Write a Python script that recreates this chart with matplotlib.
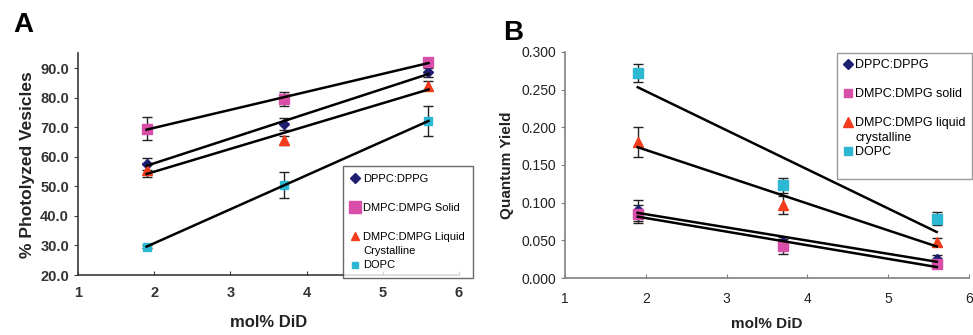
import numpy as np
import matplotlib.pyplot as plt
from matplotlib.lines import Line2D

plt.rcParams['font.family'] = ['Liberation Sans', 'DejaVu Sans']

# mol% DiD
x = np.array([1.9, 3.7, 5.6])

# panel A: % photolyzed vesicles
a_dppc = [57.5, 71.0, 88.5]
a_dppc_err = [2.0, 2.0, 1.5]
a_solid = [69.5, 79.5, 92.0]
a_solid_err = [3.8, 2.5, 1.0]
a_liquid = [55.5, 65.5, 84.0]
a_liquid_err = [2.5, 1.5, 1.5]
a_dopc = [29.5, 50.5, 72.0]
a_dopc_err = [0.5, 4.5, 5.0]

# panel B: quantum yield
b_dppc = [0.090, 0.048, 0.025]
b_dppc_err = [0.014, 0.006, 0.006]
b_solid = [0.085, 0.042, 0.018]
b_solid_err = [0.012, 0.010, 0.004]
b_liquid = [0.180, 0.097, 0.048]
b_liquid_err = [0.020, 0.012, 0.005]
b_dopc = [0.272, 0.123, 0.079]
b_dopc_err = [0.012, 0.010, 0.008]

navy = '#1f1f72'
pink = '#d84ea8'
red = '#f23c1c'
cyan = '#2cb8d2'


def draw_series(ax, y, err, color, marker, ms):
	ax.errorbar(x, y, yerr=err, fmt=marker, color=color, ms=ms, mec=color,
		ecolor='#222222', elinewidth=1.0, capsize=3.5, capthick=1.0, zorder=3)
	k, b = np.polyfit(x, y, 1)
	ax.plot(x[[0, -1]], k*x[[0, -1]] + b, color='black', lw=1.8, zorder=4)


def style_axes(ax, spine_col):
	ax.spines['top'].set_visible(False)
	ax.spines['right'].set_visible(False)
	ax.spines['left'].set_color(spine_col)
	ax.spines['bottom'].set_color(spine_col)
	ax.spines['left'].set_linewidth(1.2)
	ax.spines['bottom'].set_linewidth(1.2)
	ax.tick_params(axis='y', direction='out', length=3, color=spine_col)
	ax.tick_params(axis='x', direction='in', length=3, color=spine_col)
	ax.set_xlim(1, 6)
	ax.set_xticks([1, 2, 3, 4, 5, 6])


def blank():
	return Line2D([], [], linestyle='none')


fig = plt.figure(figsize=(9.73, 3.35), dpi=100)

# ---- A
ax = fig.add_axes([0.0802, 0.179, 0.3915, 0.662])
draw_series(ax, a_dppc, a_dppc_err, navy, 'D', 5.5)
draw_series(ax, a_solid, a_solid_err, pink, 's', 7)
draw_series(ax, a_liquid, a_liquid_err, red, '^', 7)
draw_series(ax, a_dopc, a_dopc_err, cyan, 's', 6)
style_axes(ax, '#3a3a3a')
ax.set_ylim(20, 95)
ax.set_yticks(np.arange(20, 91, 10))
ax.set_yticklabels(['%.1f' % v for v in np.arange(20, 91, 10)])
for lab in ax.get_xticklabels() + ax.get_yticklabels():
	lab.set_fontsize(10.5)
	lab.set_fontweight('bold')
	lab.set_color('#333333')
ax.tick_params(axis='x', pad=8)
ax.set_xlabel('mol% DiD', fontsize=12, fontweight='bold', labelpad=11, color='#222222')
ax.set_ylabel('% Photolyzed Vesicles', fontsize=12.5, fontweight='bold', labelpad=4, color='#222222')

hA = [Line2D([], [], ls='none', marker='D', color=navy, ms=5),
	blank(),
	Line2D([], [], ls='none', marker='s', color=pink, ms=8),
	blank(),
	Line2D([], [], ls='none', marker='^', color=red, ms=6),
	blank(),
	Line2D([], [], ls='none', marker='s', color=cyan, ms=5)]
lA = ['DPPC:DPPG', '', 'DMPC:DMPG Solid', '', 'DMPC:DMPG Liquid', 'Crystalline', 'DOPC']
legA = ax.legend(hA, lA, loc='upper left', bbox_to_anchor=(343/973, 1 - 166/335),
	bbox_transform=fig.transFigure, fontsize=8, frameon=True, fancybox=False,
	edgecolor='#444444', labelspacing=0.4, handlelength=0.8, handletextpad=0.3,
	borderpad=0.7, borderaxespad=0)
legA.get_frame().set_linewidth(1.0)

fig.text(13/973, 1 - 32/335, 'A', fontsize=20, fontweight='bold')

# ---- B
bx = fig.add_axes([0.5807, 0.170, 0.4152, 0.675])
draw_series(bx, b_dppc, b_dppc_err, navy, 'D', 5.5)
draw_series(bx, b_solid, b_solid_err, pink, 's', 6.5)
draw_series(bx, b_liquid, b_liquid_err, red, '^', 7)
draw_series(bx, b_dopc, b_dopc_err, cyan, 's', 7)
style_axes(bx, '#808080')
bx.set_ylim(0, 0.3)
bx.set_yticks(np.arange(0, 0.301, 0.05))
bx.set_yticklabels(['%.3f' % v for v in np.arange(0, 0.301, 0.05)])
for lab in bx.get_xticklabels() + bx.get_yticklabels():
	lab.set_fontsize(10)
	lab.set_color('#222222')
bx.tick_params(axis='x', pad=10)
bx.set_xlabel('mol% DiD', fontsize=11, fontweight='bold', labelpad=8, color='#222222')
bx.set_ylabel('Quantum Yield', fontsize=11, fontweight='bold', labelpad=5, color='#222222')

hB = [Line2D([], [], ls='none', marker='D', color=navy, ms=5),
	blank(),
	Line2D([], [], ls='none', marker='s', color=pink, ms=6),
	blank(),
	Line2D([], [], ls='none', marker='^', color=red, ms=7),
	blank(),
	Line2D([], [], ls='none', marker='s', color=cyan, ms=6),
	blank()]
lB = ['DPPC:DPPG', '', 'DMPC:DMPG solid', '', 'DMPC:DMPG liquid', 'crystalline', 'DOPC', '']
legB = bx.legend(hB, lB, loc='upper left', bbox_to_anchor=(837/973, 1 - 53/335),
	bbox_transform=fig.transFigure, fontsize=9, frameon=True, fancybox=False,
	edgecolor='#808080', labelspacing=0.2, handlelength=0.7, handletextpad=0.25,
	borderpad=0.5, borderaxespad=0)
legB.get_frame().set_linewidth(1.0)

fig.text(503/973, 1 - 40/335, 'B', fontsize=20, fontweight='bold')

fig.savefig('out.png', dpi=100)
